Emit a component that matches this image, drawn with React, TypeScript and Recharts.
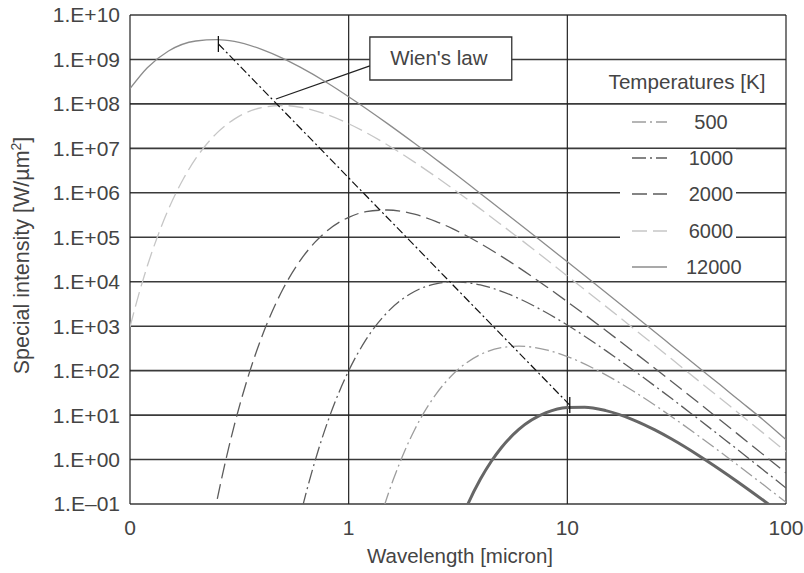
import React from 'react';
import { LineChart, Line, XAxis, YAxis, CartesianGrid, Legend, ReferenceArea, ReferenceLine } from 'recharts';

type Pt = [number, number];

// wavelength [micron], spectral intensity
const T12000: Pt[] = [
  [0.1, 2.2e8], [0.12, 6.5e8], [0.15, 1.55e9], [0.2, 2.6e9], [0.25, 2.8e9], [0.3, 2.55e9],
  [0.4, 1.69e9], [0.5, 1.06e9], [0.6, 6.7e8], [0.8, 2.95e8], [1, 1.45e8], [1.2, 7.9e7],
  [1.5, 3.65e7], [2, 1.3e7], [2.5, 5.7e6], [3, 2.9e6], [4, 9.7e5], [5, 4.1e5], [6, 2.05e5],
  [8, 6.7e4], [10, 2.8e4], [15, 5.7e3], [20, 1.83e3], [30, 365], [40, 116], [50, 48],
  [60, 23], [80, 7.3], [100, 2.8],
];
const T6000: Pt[] = [
  [0.1, 960], [0.11, 5.47e3], [0.12, 2.25e4], [0.135, 1.19e5], [0.15, 4.29e5], [0.175, 2.02e6],
  [0.2, 5.92e6], [0.25, 2.23e7], [0.3, 4.54e7], [0.4, 8.24e7], [0.5, 9.2e7], [0.6, 8.41e7],
  [0.8, 5.69e7], [1, 3.58e7], [1.2, 2.27e7], [1.5, 1.21e7], [2, 4.9e6], [2.5, 2.32e6],
  [3, 1.23e6], [4, 4.35e5], [5, 1.9e5], [6, 9.6e4], [8, 3.2e4], [10, 1.35e4], [15, 2.79e3],
  [20, 902], [30, 182], [40, 58], [50, 24], [60, 11.6], [80, 3.7], [100, 1.5],
];
const T2000: Pt[] = [
  [0.24, 0.045], [0.25, 0.122], [0.275, 1.04], [0.3, 5.93], [0.35, 84.4], [0.4, 565],
  [0.5, 6.76e3], [0.6, 2.99e4], [0.7, 7.66e4], [0.8, 1.42e5], [1, 2.81e5], [1.2, 3.76e5],
  [1.5, 4.11e5], [2, 3.3e5], [2.5, 2.29e5], [3, 1.54e5], [4, 7.25e4], [5, 3.72e4],
  [6, 2.08e4], [8, 7.83e3], [10, 3.55e3], [15, 801], [20, 270], [30, 56.8], [40, 18.6],
  [50, 7.74], [60, 3.78], [80, 1.21], [100, 0.5],
];
const T1000: Pt[] = [
  [0.58, 0.026], [0.62, 0.1005], [0.7, 0.894], [0.8, 6.86], [0.9, 31.2], [1, 99], [1.2, 497],
  [1.5, 2.03e3], [2, 6.02e3], [2.5, 8.98e3], [3, 9.95e3], [3.5, 9.54e3], [4, 8.48e3],
  [5, 6.09e3], [6, 4.19e3], [8, 2.03e3], [10, 1.06e3], [15, 282], [20, 103], [30, 23.5],
  [40, 7.94], [50, 3.38], [60, 1.68], [80, 0.548], [100, 0.229],
];
const T500: Pt[] = [
  [1.35, 0.0273], [1.45, 0.0862], [1.6, 0.354], [1.8, 1.52], [2, 4.63], [2.5, 28.9], [3, 83],
  [4, 230], [5, 330], [6, 356], [7, 335], [8, 294], [10, 207], [15, 80.3], [20, 34.7],
  [30, 9.21], [40, 3.35], [50, 1.49], [60, 0.758], [80, 0.256], [100, 0.109],
];
const T260: Pt[] = [
  [3.3, 0.0499], [3.5, 0.0969], [4, 0.359], [4.5, 0.926], [5, 1.87], [6, 4.75], [8, 11.3],
  [10, 14.8], [12, 15.1], [15, 12.6], [20, 7.84], [25, 4.7], [30, 2.89], [40, 1.22],
  [50, 0.591], [60, 0.318], [80, 0.1145], [90, 0.0746],
];
const WIEN: Pt[] = [[0.2536, 2.23e9], [10.26, 16.8]];

const LEGEND_LABELS = ['500', '1000', '2000', '6000', '12000'];
const X_TICKS = [0.1, 1, 10, 100];
const X_TICK_LABELS = ['0', '1', '10', '100'];
const Y_TICKS = [1e-1, 1e0, 1e1, 1e2, 1e3, 1e4, 1e5, 1e6, 1e7, 1e8, 1e9, 1e10];
const Y_TICK_LABELS = ['1.E–01', '1.E+00', '1.E+01', '1.E+02', '1.E+03', '1.E+04', '1.E+05', '1.E+06', '1.E+07', '1.E+08', '1.E+09', '1.E+10'];
const WIEN_BOX = { x1: 1.25, x2: 5.57, y1: 3.45e8, y2: 3.2e9 };
const WIEN_LEADER: Pt[] = [[0.465, 1.29e8], [1.25, 7.2e8]];

const FONT = '"Liberation Sans", Arial, Helvetica, sans-serif';
const TEXT = '#444';

const toData = (pts: Pt[]) => pts.map(([x, y]) => ({ x, y }));

const STYLES: Record<string, { stroke: string; width: number; dash?: string }> = {
  '500': { stroke: '#9d9d9d', width: 1.3, dash: '14 4 2 4' },
  '1000': { stroke: '#5c5c5c', width: 1.3, dash: '14 4 2 4' },
  '2000': { stroke: '#5c5c5c', width: 1.3, dash: '15 6' },
  '6000': { stroke: '#c6c6c6', width: 1.3, dash: '15 6' },
  '12000': { stroke: '#8c8c8c', width: 1.3 },
};

const SERIES: { key: string; pts: Pt[] }[] = [
  { key: '12000', pts: T12000 },
  { key: '6000', pts: T6000 },
  { key: '2000', pts: T2000 },
  { key: '1000', pts: T1000 },
  { key: '500', pts: T500 },
];

const fmtX = (v: number) => {
  const i = X_TICKS.findIndex((t) => Math.abs(t - v) < 1e-9 * Math.max(1, t));
  return i >= 0 ? X_TICK_LABELS[i] : String(v);
};
const fmtY = (v: number) => {
  const i = Y_TICKS.findIndex((t) => Math.abs(Math.log10(t) - Math.log10(v)) < 1e-6);
  return i >= 0 ? Y_TICK_LABELS[i] : String(v);
};

const YTitle = (props: any) => {
  const vb = props.viewBox || { x: 13, y: 15, width: 117, height: 489 };
  const cx = vb.x + 15.5;
  const cy = vb.y + vb.height / 2 - 4;
  return (
    <text x={cx} y={cy} transform={`rotate(-90 ${cx} ${cy})`} textAnchor="middle" fontSize={21.5} fontFamily={FONT} fill={TEXT}>
      Special intensity [W/µm<tspan dy={-8} fontSize={14}>2</tspan><tspan dy={8}>]</tspan>
    </text>
  );
};

const XTitle = (props: any) => {
  const vb = props.viewBox || { x: 130, y: 504, width: 656, height: 40 };
  return (
    <text x={vb.x + vb.width / 2 + 2} y={vb.y + 59} textAnchor="middle" fontSize={20.5} fontFamily={FONT} fill={TEXT}>
      Wavelength [micron]
    </text>
  );
};

const WienTick = (p: any) => (
  <line key={`wt${p.index}`} x1={p.cx} x2={p.cx} y1={p.cy - 8} y2={p.cy + 8} stroke="#111" strokeWidth={1.3} />
);

const WienLabel = (props: any) => {
  const vb = props.viewBox;
  if (!vb) return null;
  return (
    <text x={vb.x + vb.width / 2 - 2} y={vb.y + vb.height / 2 + 7} textAnchor="middle" fontSize={20.5} fontFamily={FONT} fill={TEXT}>
      Wien's law
    </text>
  );
};

const LegendBox = () => (
  <div style={{ position: 'relative', width: 170, height: 220, fontFamily: FONT, fontSize: 20, color: TEXT }}>
    <div style={{ position: 'absolute', left: 3, top: 2, width: 160, textAlign: 'center', lineHeight: '24px', whiteSpace: 'nowrap', fontSize: 20.6 }}>
      Temperatures [K]
    </div>
    {LEGEND_LABELS.map((t, i) => {
      const s = STYLES[t];
      return (
        <div key={t} style={{ position: 'absolute', left: 16, top: 54 + i * 36.2 - 9, width: 116, height: 18, background: '#fff' }}>
          <svg style={{ position: 'absolute', left: 12, top: 0 }} width={35} height={18}>
            <line x1={0} x2={35} y1={9} y2={9} stroke={s.stroke} strokeWidth={s.width} strokeDasharray={s.dash} />
          </svg>
          <div style={{ position: 'absolute', left: 66, width: 50, top: -3, lineHeight: '24px', textAlign: 'center' }}>{t}</div>
        </div>
      );
    })}
  </div>
);

export default function App() {
  return (
    <div style={{ position: 'absolute', left: 0, top: 0, width: 804, height: 573 }}>
      <LineChart width={804} height={573} margin={{ top: 15, right: 18, left: 13, bottom: 29 }}>
        <CartesianGrid horizontal={true} vertical={false} stroke="#3a3a3a" strokeWidth={1.6} />
        <CartesianGrid horizontal={false} vertical={true} stroke="#222" strokeWidth={1.2} />
        <XAxis
          dataKey="x"
          type="number"
          scale="log"
          domain={[0.1, 100]}
          ticks={X_TICKS}
          interval={0}
          allowDataOverflow
          tickFormatter={fmtX}
          axisLine={false}
          tickLine={false}
          tickSize={6}
          tickMargin={10}
          height={40}
          tick={{ fontSize: 21, fill: TEXT, fontFamily: FONT }}
          label={{ content: XTitle }}
        />
        <YAxis
          type="number"
          scale="log"
          domain={[0.1, 1e10]}
          ticks={Y_TICKS}
          interval={0}
          allowDataOverflow
          tickFormatter={fmtY}
          axisLine={false}
          tickLine={false}
          tickSize={6}
          tickMargin={4}
          width={117}
          tick={{ fontSize: 21, fill: TEXT, fontFamily: FONT }}
          label={{ content: YTitle }}
        />
        <ReferenceArea
          x1={WIEN_BOX.x1}
          x2={WIEN_BOX.x2}
          y1={WIEN_BOX.y1}
          y2={WIEN_BOX.y2}
          fill="#fff"
          fillOpacity={1}
          stroke="#333"
          strokeWidth={1.3}
          ifOverflow="visible"
          label={{ content: WienLabel }}
        />
        <ReferenceLine
          segment={WIEN_LEADER.map(([x, y]) => ({ x, y }))}
          stroke="#222"
          strokeWidth={1.3}
          ifOverflow="visible"
        />
        {SERIES.map((s) => (
          <Line
            key={s.key}
            data={toData(s.pts)}
            dataKey="y"
            name={s.key}
            type="monotone"
            stroke={STYLES[s.key].stroke}
            strokeWidth={STYLES[s.key].width}
            strokeDasharray={STYLES[s.key].dash}
            dot={false}
            activeDot={false}
            isAnimationActive={false}
          />
        ))}
        <Line
          data={toData(T260)}
          dataKey="y"
          name="260"
          type="monotone"
          stroke="#666"
          strokeWidth={3}
          dot={false}
          activeDot={false}
          legendType="none"
          isAnimationActive={false}
        />
        <Line
          data={toData(WIEN)}
          dataKey="y"
          name="Wien"
          type="linear"
          stroke="#111"
          strokeWidth={1.2}
          strokeDasharray="8 3 2 3"
          dot={WienTick}
          activeDot={false}
          legendType="none"
          isAnimationActive={false}
        />
        <Legend
          layout="vertical"
          align="center"
          verticalAlign="middle"
          content={LegendBox}
          wrapperStyle={{ position: 'absolute', left: 604, top: 68, width: 170, height: 220 }}
        />
      </LineChart>
    </div>
  );
}
